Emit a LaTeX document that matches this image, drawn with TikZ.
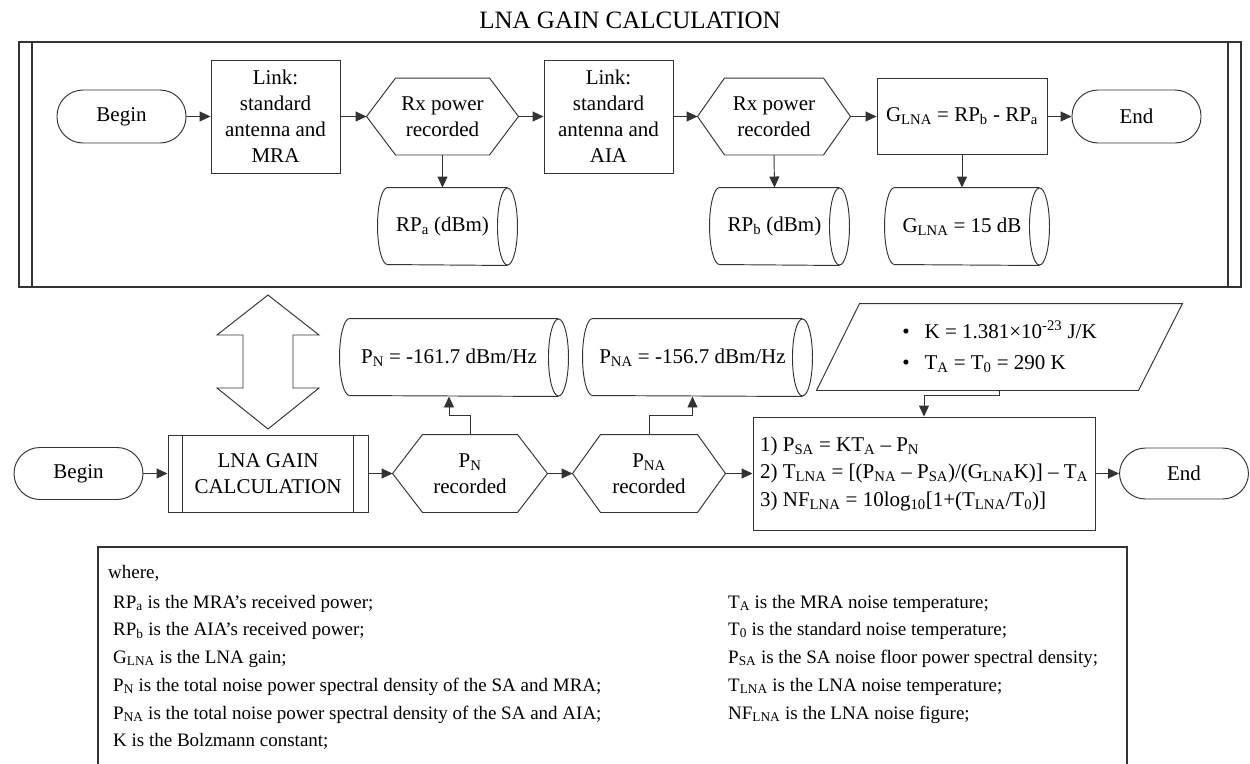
\documentclass[tikz,border=0pt]{standalone}
\usepackage{fontspec}
\setmainfont{Liberation Serif}
\usetikzlibrary{arrows.meta,calc}
\newcommand{\sbx}[1]{\textsubscript{#1}}
\newcommand{\nfont}{\fontsize{21}{26}\selectfont}
\newcommand{\ffont}{\fontsize{21}{27.5}\selectfont}
\newcommand{\lfont}{\fontsize{19}{28}\selectfont}
\newcommand{\hexdraw}[2]{%
  \draw[ln] (#1.west) -- ($(#1.north west)+(#2,0)$) -- ($(#1.north east)+(-#2,0)$) -- (#1.east)
    -- ($(#1.south east)+(-#2,0)$) -- ($(#1.south west)+(#2,0)$) -- cycle;}
\newcommand{\storedraw}[2]{%
  \draw[ln] (#1.north east) -- ($(#1.north west)+(10,0)$)
    arc[start angle=90, end angle=270, x radius=10pt, y radius=#2pt] -- (#1.south east);
  \draw[ln] (#1.east) ellipse[x radius=10pt, y radius=#2pt];}
\tikzset{
  ln/.style={line width=0.95pt, draw=black!80},
  base/.style={ln, align=center, inner sep=0pt, font=\nfont},
  termbox/.style={base, draw, rounded corners=26pt, minimum width=129pt, minimum height=53pt},
  procbox/.style={base, draw, rectangle},
  hexbox/.style={base, draw=none},
  storebox/.style={base, draw=none},
  arr/.style={ln, -{Triangle[length=11pt,width=10pt]}},
  legtext/.style={anchor=base west, inner sep=0pt, font=\lfont}
}
\begin{document}
\begin{tikzpicture}[x=1pt,y=-1pt]
\useasboundingbox (0,0) rectangle (1250,763);
% title
\node[font=\fontsize{25}{30}\selectfont, inner sep=0pt] (title) at (630,20) {LNA GAIN CALCULATION};
% subprocess frame
\draw[ln, line width=1.5pt] (19,42) rectangle (1241,287);
\draw[ln, line width=1.5pt] (32,42) -- (32,287);
\draw[ln, line width=1.5pt] (1228,42) -- (1228,287);
% top row
\node[termbox] (b1) at (121.5,116.5) {Begin};
\node[procbox, minimum width=129pt, minimum height=113pt] (l1) at (275.5,116.5) {Link:\\standard\\antenna and\\MRA};
\node[hexbox, minimum width=151pt, minimum height=76pt] (h1) at (442.5,116.5) {Rx power\\recorded};
\node[procbox, minimum width=129pt, minimum height=113pt] (l2) at (608.5,116.5) {Link:\\standard\\antenna and\\AIA};
\node[hexbox, minimum width=152pt, minimum height=76pt] (h2) at (774,116.5) {Rx power\\recorded};
\node[procbox, minimum width=170pt, minimum height=76pt] (g) at (962,116.5) {G\sbx{LNA} = RP\sbx{b} - RP\sbx{a}};
\node[termbox] (e1) at (1136.5,116.5) {End};
\node[storebox, minimum width=129pt, minimum height=77pt] (s1) at (442.5,226.5) {RP\sbx{a} (dBm)};
\node[storebox, minimum width=129pt, minimum height=77pt] (s2) at (774.5,226.5) {RP\sbx{b} (dBm)};
\node[storebox, minimum width=154pt, minimum height=77pt] (s3) at (962,226.5) {G\sbx{LNA} = 15 dB};
\hexdraw{h1}{29}
\hexdraw{h2}{27}
\storedraw{s1}{38.5}
\storedraw{s2}{38.5}
\storedraw{s3}{38.5}
\draw[arr] (b1.east) -- (l1.west);
\draw[arr] (l1.east) -- (h1.west);
\draw[arr] (h1.east) -- (l2.west);
\draw[arr] (l2.east) -- (h2.west);
\draw[arr] (h2.east) -- (g.west);
\draw[arr] (g.east) -- (e1.west);
\draw[arr] (h1.south) -- (s1.north);
\draw[arr] (h2.south) -- (s2.north);
\draw[arr] (g.south) -- (s3.north);
% double arrow
\draw[ln] (268,295) -- (319,335) -- (293,335) -- (293,388) -- (319,388) -- (268,429)
  -- (217,388) -- (243,388) -- (243,335) -- (217,335) -- cycle;
% bottom row
\node[termbox, minimum height=52pt] (b2) at (78.5,473.5) {Begin};
\node[procbox, minimum width=200pt, minimum height=77pt] (c) at (268,473.5) {LNA GAIN\\CALCULATION};
\draw[ln] ($(c.north west)+(15,0)$) -- ($(c.south west)+(15,0)$);
\draw[ln] ($(c.north east)+(-15,0)$) -- ($(c.south east)+(-15,0)$);
\node[hexbox, minimum width=154pt, minimum height=77pt] (h3) at (470,473.5) {P\sbx{N}\\recorded};
\node[hexbox, minimum width=152pt, minimum height=77pt] (h4) at (649,473.5) {P\sbx{NA}\\recorded};
\hexdraw{h3}{30}
\hexdraw{h4}{28}
\node[procbox, minimum width=342pt, minimum height=113pt, align=left, font=\ffont] (f) at (924,473.5)
  {1) P\sbx{SA} = KT\sbx{A} – P\sbx{N}\\2) T\sbx{LNA} = [(P\sbx{NA} – P\sbx{SA})/(G\sbx{LNA}K)] – T\sbx{A}\\3) NF\sbx{LNA} = 10log\sbx{10}[1+(T\sbx{LNA}/T\sbx{0})]};
\node[termbox, minimum height=51pt] (e2) at (1184,473.5) {End};
\node[storebox, minimum width=218pt, minimum height=77pt] (s4) at (449,357.5) {P\sbx{N} = -161.7 dBm/Hz};
\node[storebox, minimum width=219pt, minimum height=77pt] (s5) at (692.5,357.5) {P\sbx{NA} = -156.7 dBm/Hz};
\storedraw{s4}{38.5}
\storedraw{s5}{38.5}
\node[base, draw=none, minimum width=365pt, minimum height=86pt, align=left] (p) at (999.5,347)
  {\textbullet\hspace{15pt}K = 1.381×10\textsuperscript{-23} J/K\\[5pt]\textbullet\hspace{15pt}T\sbx{A} = T\sbx{0} = 290 K};
\draw[ln] (p.south west) -- ($(p.north west)+(43,0)$) -- (p.north east) -- ($(p.south east)+(-44,0)$) -- cycle;
\draw[arr] (b2.east) -- (c.west);
\draw[arr] (c.east) -- (h3.west);
\draw[arr] (h3.east) -- (h4.west);
\draw[arr] (h4.east) -- (f.west);
\draw[arr] (f.east) -- (e2.west);
\draw[arr] (h3.north) -- ++(0,-19) -| (s4.south);
\draw[arr] (h4.north) -- ++(0,-19) -| (s5.south);
\draw[arr] (p.south) -- ++(0,5) -| (f.north);
% legend
\draw[ln, line width=1.3pt] (98,770) -- (98,547) -- (1127,547) -- (1127,770);
\node[legtext] (w0) at (108,578) {where,};
\node[legtext] (w1) at (113,608) {RP\sbx{a} is the MRA’s received power;};
\node[legtext] (w2) at (113,635) {RP\sbx{b} is the AIA’s received power;};
\node[legtext] (w3) at (113,663) {G\sbx{LNA} is the LNA gain;};
\node[legtext] (w4) at (113,691) {P\sbx{N} is the total noise power spectral density of the SA and MRA;};
\node[legtext] (w5) at (113,719) {P\sbx{NA} is the total noise power spectral density of the SA and AIA;};
\node[legtext] (w6) at (113,746) {K is the Bolzmann constant;};
\node[legtext] (v1) at (728,608) {T\sbx{A} is the MRA noise temperature;};
\node[legtext] (v2) at (728,635) {T\sbx{0} is the standard noise temperature;};
\node[legtext] (v3) at (728,663) {P\sbx{SA} is the SA noise floor power spectral density;};
\node[legtext] (v4) at (728,691) {T\sbx{LNA} is the LNA noise temperature;};
\node[legtext] (v5) at (728,719) {NF\sbx{LNA} is the LNA noise figure;};
\end{tikzpicture}
\end{document}
